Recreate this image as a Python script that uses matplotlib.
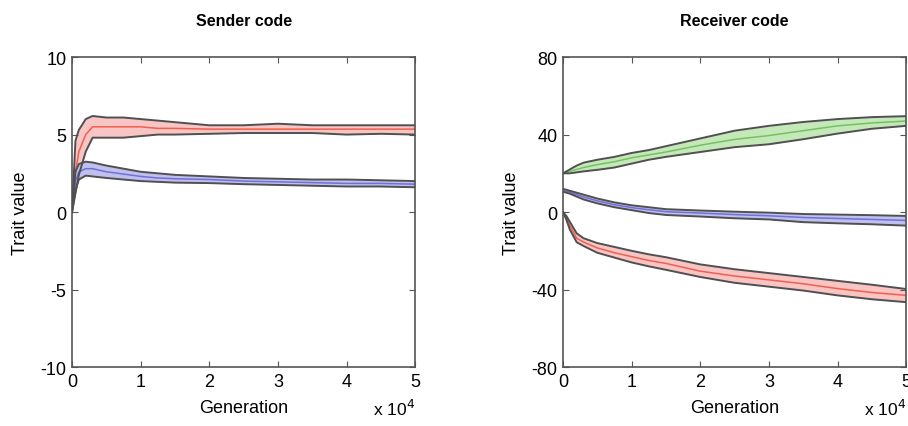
import matplotlib
matplotlib.use("Agg")
import matplotlib.pyplot as plt
import numpy as np

plt.rcParams['font.family'] = ['Liberation Sans', 'DejaVu Sans']
plt.rcParams['axes.unicode_minus'] = False

# generation, in units of 10^4
gen = [0, 0.05, 0.1, 0.2, 0.3, 0.5, 0.75, 1, 1.25, 1.5, 2, 2.5, 3, 3.5, 4, 4.5, 5]

# sender code
s_red_hi = [0, 4.6, 5.3, 6.0, 6.2, 6.1, 6.1, 6.0, 5.9, 5.8, 5.6, 5.6, 5.7, 5.6, 5.6, 5.6, 5.6]
s_red_mid = [0, 2.6, 3.9, 5.0, 5.5, 5.5, 5.5, 5.5, 5.4, 5.4, 5.35, 5.35, 5.35, 5.35, 5.35, 5.35, 5.35]
s_red_lo = [0, 1.2, 2.4, 3.9, 4.8, 4.8, 4.8, 4.9, 5.0, 5.0, 5.05, 5.1, 5.1, 5.1, 5.0, 5.05, 5.0]
s_blu_hi = [0, 2.6, 3.1, 3.25, 3.2, 3.0, 2.8, 2.6, 2.5, 2.4, 2.3, 2.2, 2.15, 2.1, 2.1, 2.05, 2.0]
s_blu_mid = [0, 2.0, 2.6, 2.8, 2.8, 2.6, 2.45, 2.3, 2.2, 2.15, 2.1, 2.0, 1.95, 1.9, 1.85, 1.85, 1.8]
s_blu_lo = [0, 1.4, 2.1, 2.35, 2.3, 2.2, 2.1, 2.0, 1.95, 1.9, 1.87, 1.8, 1.75, 1.7, 1.65, 1.65, 1.6]

# receiver code
r_grn_hi = [20, 21, 22, 24, 25.5, 27, 28.5, 30.5, 32, 34, 38, 42, 44.5, 46.5, 48, 49, 49.5]
r_grn_mid = [20, 20.5, 21, 22, 23, 24.5, 26, 28, 29.5, 31, 34.5, 37.5, 39.5, 42, 44.5, 46, 47]
r_grn_lo = [20, 20, 20, 20.5, 21, 21.8, 23, 25, 27, 28.5, 31, 33.5, 35, 37.6, 40.5, 43, 44.5]
r_blu_hi = [12, 11.5, 11, 10, 9, 7, 5, 3.5, 2.5, 1.5, 0.8, 0.2, -0.3, -1, -1.3, -1.6, -2]
r_blu_mid = [11, 10.8, 10.3, 9, 7.8, 5.8, 3.8, 2.3, 1.2, 0.2, -0.5, -1.3, -1.9, -2.8, -3.3, -3.8, -4.3]
r_blu_lo = [10.5, 10, 9.5, 8, 6.5, 4.5, 2.5, 1, -0.5, -1.5, -2.3, -3.2, -3.8, -5.2, -5.8, -6.3, -7]
r_red_hi = [0, -2, -5, -11, -13.5, -16, -18, -20, -21.8, -23.3, -27, -29.5, -31.5, -33.5, -35.5, -37.5, -39.7]
r_red_mid = [0, -3, -7, -13.5, -15.5, -18.5, -21, -23, -25, -26.5, -30.5, -33, -35, -37, -39.5, -41.5, -43]
r_red_lo = [0, -4, -9, -15.6, -17.5, -21, -23.5, -26, -28, -29.8, -33.5, -36.5, -38.5, -40.5, -43, -45, -46.5]

red_fill, red_line = '#f8c4c4', '#f0604c'
blu_fill, blu_line = '#c0c0ee', '#7070da'
grn_fill, grn_line = '#c4e8b8', '#74c263'
edge = '#505050'


def band(ax, lo, mid, hi, fc, lc):
    ax.fill_between(gen, lo, hi, color=fc, lw=0, zorder=1)
    ax.plot(gen, mid, color=lc, lw=1.1, zorder=2)
    ax.plot(gen, hi, color=edge, lw=1.4, zorder=3)
    ax.plot(gen, lo, color=edge, lw=1.4, zorder=3)


def style(ax, title, yticks):
    ax.set_xlim(0, 5)
    ax.set_xticks(range(6))
    ax.set_ylim(yticks[0], yticks[-1])
    ax.set_yticks(yticks)
    ax.tick_params(direction='in', top=True, right=True, labelsize=13,
                   length=4, width=0.8, color='#555555', pad=4)
    for s in ax.spines.values():
        s.set_color('#555555')
        s.set_linewidth(1.2)
    ax.set_title(title, fontsize=11.5, fontweight='bold', pad=23)
    ax.set_xlabel('Generation', fontsize=13, labelpad=7)
    ax.set_ylabel('Trait value', fontsize=13, labelpad=8)
    ax.text(1.0, -0.10, r'x 10$^{4}$', transform=ax.transAxes, fontsize=12.5,
            ha='right', va='top')


fig = plt.figure(figsize=(9.08, 4.27), dpi=100)
ax1 = fig.add_axes([0.0793, 0.138, 0.378, 0.726])
ax2 = fig.add_axes([0.620, 0.138, 0.378, 0.726])

band(ax1, s_red_lo, s_red_mid, s_red_hi, red_fill, red_line)
band(ax1, s_blu_lo, s_blu_mid, s_blu_hi, blu_fill, blu_line)
style(ax1, 'Sender code', [-10, -5, 0, 5, 10])

band(ax2, r_grn_lo, r_grn_mid, r_grn_hi, grn_fill, grn_line)
band(ax2, r_blu_lo, r_blu_mid, r_blu_hi, blu_fill, blu_line)
band(ax2, r_red_lo, r_red_mid, r_red_hi, red_fill, red_line)
style(ax2, 'Receiver code', [-80, -40, 0, 40, 80])

fig.savefig('out.png', dpi=100)
